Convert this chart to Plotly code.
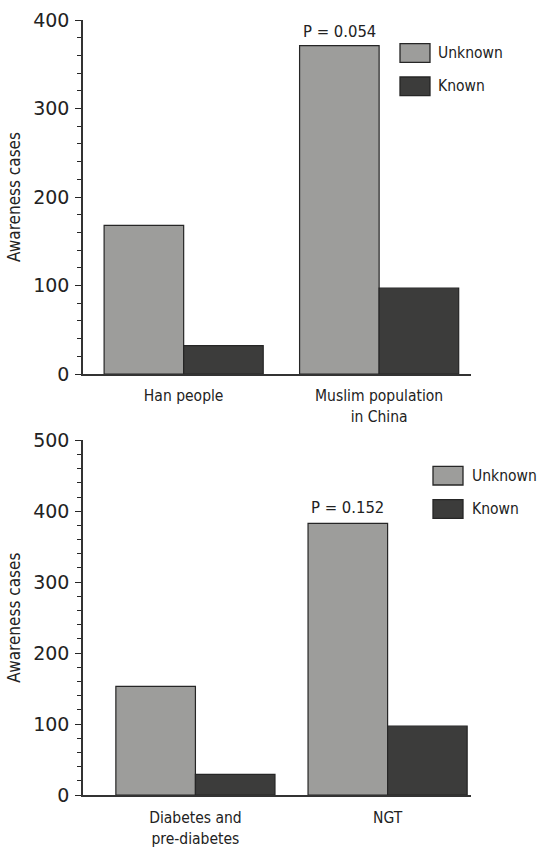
import plotly.graph_objects as go

# ---- data ----
top_categories = ["Han people", "Muslim population<br>in China"]
top_unknown = [168, 371]
top_known = [32, 97]
top_p_label = "P = 0.054"

bottom_categories = ["Diabetes and<br>pre-diabetes", "NGT"]
bottom_unknown = [153, 383]
bottom_known = [29, 97]
bottom_p_label = "P = 0.152"

series_names = ["Unknown", "Known"]
y_title = "Awareness cases"
top_ticks = [0, 100, 200, 300, 400]
bottom_ticks = [0, 100, 200, 300, 400, 500]

# ---- style ----
C_UNK = "#9d9d9b"
C_KNOWN = "#3c3c3b"
C_LINE = "#262626"
C_TEXT = "#222222"
FONT = "DejaVu Sans Condensed, Liberation Sans Narrow, sans-serif"
NUMFONT = "DejaVu Sans, sans-serif"

ML, MR, MT, MB = 83, 68, 20, 54
FW, FH = 539, 849

fig = go.Figure()

xpos = [0, 1]
W_TOP, W_BOT = 0.407, 0.414
for (unk, kn, xa, ya, w) in [
    (top_unknown, top_known, "x", "y", W_TOP),
    (bottom_unknown, bottom_known, "x2", "y2", W_BOT),
]:
    fig.add_trace(go.Bar(x=xpos, y=unk, name=series_names[0], width=w, offset=-w,
                         marker=dict(color=C_UNK, line=dict(color=C_LINE, width=1.2)),
                         xaxis=xa, yaxis=ya, showlegend=False))
    fig.add_trace(go.Bar(x=xpos, y=kn, name=series_names[1], width=w, offset=0,
                         marker=dict(color=C_KNOWN, line=dict(color=C_LINE, width=1.2)),
                         xaxis=xa, yaxis=ya, showlegend=False))

line_common = dict(showline=True, linecolor="#333333", linewidth=1.5, showgrid=False,
                   zeroline=False, automargin=False)
xfont = dict(size=15.5, color=C_TEXT, family=FONT)
yfont = dict(size=19, color=C_TEXT, family=NUMFONT)
minor = dict(dtick=20, ticks="outside", ticklen=4, tickcolor=C_LINE, tickwidth=1.2)
ytitle = dict(text=y_title, font=dict(size=17, family=FONT, color=C_TEXT), standoff=8)

fig.update_layout(
    width=FW, height=FH,
    margin=dict(l=ML, r=MR, t=MT, b=MB),
    plot_bgcolor="white", paper_bgcolor="white",
    barmode="overlay",
    font=dict(family=FONT, color=C_TEXT),
    xaxis=dict(domain=[0, 1], anchor="y", range=[-0.515, 1.47], tickvals=xpos,
               ticktext=top_categories, ticks="", tickfont=xfont, ticklabelstandoff=7,
               **line_common),
    yaxis=dict(domain=[0.5432, 1], anchor="x", range=[0, 400], tickvals=top_ticks,
               ticks="outside", ticklen=6, tickcolor=C_LINE, tickwidth=1.3,
               ticklabelstandoff=2, tickfont=yfont, minor=minor, title=ytitle,
               **line_common),
    xaxis2=dict(domain=[0, 1], anchor="y2", range=[-0.585, 1.434], tickvals=xpos,
                ticktext=bottom_categories, ticks="", tickfont=xfont, ticklabelstandoff=8,
                **line_common),
    yaxis2=dict(domain=[0, 0.4577], anchor="x2", range=[0, 500], tickvals=bottom_ticks,
                ticks="outside", ticklen=6, tickcolor=C_LINE, tickwidth=1.3,
                ticklabelstandoff=2, tickfont=yfont, minor=minor, title=ytitle,
                **line_common),
)

# P-value annotations above the tallest bars
pfont = dict(size=16.5, family=FONT, color=C_TEXT)
fig.add_annotation(x=xpos[1] - W_TOP / 2, y=top_unknown[1], xref="x", yref="y", text=top_p_label,
                   showarrow=False, yanchor="bottom", yshift=3, font=pfont)
fig.add_annotation(x=xpos[1] - W_BOT / 2, y=bottom_unknown[1], xref="x2", yref="y2", text=bottom_p_label,
                   showarrow=False, yanchor="bottom", yshift=4, font=pfont)

# custom legends (boxes + labels), positions given in pixels -> paper coords
PW, PH = FW - ML - MR, FH - MT - MB


def px_to_paper(xp, yp):
    return (xp - ML) / PW, (FH - MB - yp) / PH


def legend(x0, y_top_unk, y_top_known, text_x):
    for ytop, col, name in [(y_top_unk, C_UNK, series_names[0]), (y_top_known, C_KNOWN, series_names[1])]:
        ax0, ay1 = px_to_paper(x0, ytop)
        ax1, ay0 = px_to_paper(x0 + 30, ytop + 18.7)
        fig.add_shape(type="rect", xref="paper", yref="paper", x0=ax0, x1=ax1, y0=ay0, y1=ay1,
                      fillcolor=col, line=dict(color=C_LINE, width=1.3))
        tx, ty = px_to_paper(text_x, ytop + 9.3)
        fig.add_annotation(x=tx, y=ty, xref="paper", yref="paper", text=name, showarrow=False,
                           xanchor="left", yanchor="middle", xshift=-2,
                           font=dict(size=15.5, family=FONT, color=C_TEXT))


legend(400, 43.7, 77, 438)
legend(433, 466.3, 499.7, 472)

fig.write_html("out.html")
